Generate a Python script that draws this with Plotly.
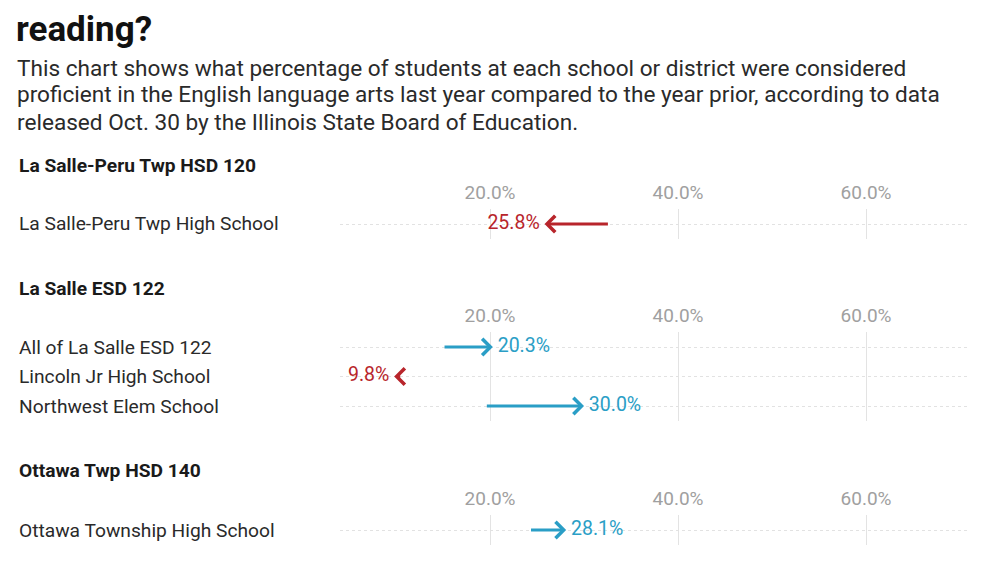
import plotly.graph_objects as go

# ---- data ----
groups = ["La Salle-Peru Twp HSD 120", "La Salle ESD 122", "Ottawa Twp HSD 140"]
schools = [
    ["La Salle-Peru Twp High School"],
    ["All of La Salle ESD 122", "Lincoln Jr High School", "Northwest Elem School"],
    ["Ottawa Township High School"],
]
prior_year = [[32.7], [15.0, 10.6, 19.5], [24.2]]
last_year = [[25.8], [20.3, 9.8, 30.0], [28.1]]
tick_vals = [20, 40, 60]
tick_text = ["20.0%", "40.0%", "60.0%"]

title = "reading?"
subtitle_lines = [
    "This chart shows what percentage of students at each school or district were considered",
    "proficient in the English language arts last year compared to the year prior, according to data",
    "released Oct. 30 by the Illinois State Board of Education.",
]

# ---- style ----
OFF = 8                      # browser body margin
W, H = 1000 - OFF, 563 - OFF
FONT = "Roboto"
UP = "#2a9ec6"
DOWN = "#b8252b"
XRANGE = [4.04, 71.06]
ROW_PX = 29.5
first_row_px = [224, 347, 530]   # page-pixel centre of first row in each panel
header_px = [165, 288, 470]
subtitle_px = [68, 95, 122]

def px(p):
    return (p - OFF) / W

def py(p):
    return 1 - (p - OFF) / H

XDOM = [px(340), px(970)]
LABEL_X = px(17)

fig = go.Figure()
annotations = []

for i, (g, names, a, b) in enumerate(zip(groups, schools, prior_year, last_year)):
    n = len(names)
    top = first_row_px[i] - ROW_PX / 2
    bot = top + n * ROW_PX
    xa = "x" if i == 0 else f"x{i+1}"
    ya = "y" if i == 0 else f"y{i+1}"
    xkey = "xaxis" if i == 0 else f"xaxis{i+1}"
    ykey = "yaxis" if i == 0 else f"yaxis{i+1}"
    fig.update_layout(**{
        xkey: dict(domain=XDOM, range=XRANGE, anchor=ya, side="top",
                   tickvals=tick_vals, ticktext=tick_text, showgrid=True,
                   gridcolor="#e3e3e3", gridwidth=1, zeroline=False, showline=False,
                   ticks="", tickfont=dict(family=FONT, size=19, color="#a0a0a0"),
                   ticklabelstandoff=5, fixedrange=True),
        ykey: dict(domain=[py(bot), py(top)], range=[n - 0.5, -0.5], anchor=xa,
                   tickvals=list(range(n)), showticklabels=False, showgrid=True,
                   gridcolor="#e2e2e2", griddash="dot", gridwidth=1, zeroline=False,
                   showline=False, ticks="", fixedrange=True),
    })
    ys = list(range(n))
    up = [e >= s for s, e in zip(a, b)]
    cols = [UP if u else DOWN for u in up]
    pos = ["middle right" if u else "middle left" for u in up]
    txt = [("\u00a0" + f"{v:.1f}%") if u else (f"{v:.1f}%" + "\u00a0") for v, u in zip(b, up)]
    fig.add_trace(go.Scatter(
        x=b, y=ys, xaxis=xa, yaxis=ya, mode="text",
        text=txt, textposition=pos,
        textfont=dict(family=FONT, size=19.5, color=cols),
        hoverinfo="skip", showlegend=False, cliponaxis=False))
    for s, e, yv, c in zip(a, b, ys, cols):
        annotations.append(dict(
            x=e, y=yv, ax=s, ay=yv, xref=xa, yref=ya, axref=xa, ayref=ya,
            text="", showarrow=True, arrowhead=4, arrowsize=1.05, arrowwidth=3,
            arrowcolor=c, standoff=0, startstandoff=0))
        annotations.append(dict(
            x=LABEL_X, y=yv, xref="paper", yref=ya, text=names[yv], showarrow=False,
            xanchor="left", yanchor="middle",
            font=dict(family=FONT, size=19.2, color="#2a2a2a")))
    annotations.append(dict(
        x=LABEL_X, y=py(header_px[i]), xref="paper", yref="paper", text=f"<b>{g}</b>",
        showarrow=False, xanchor="left", yanchor="middle",
        font=dict(family=FONT, size=19.2, color="#1a1a1a")))

annotations.append(dict(
    x=px(15), y=1.0, xref="paper", yref="paper", text=f"<b>{title}</b>",
    showarrow=False, xanchor="left", yanchor="top", borderpad=0,
    font=dict(family=FONT, size=35, color="#111111")))
for line, yp in zip(subtitle_lines, subtitle_px):
    annotations.append(dict(
        x=px(15), y=py(yp), xref="paper", yref="paper", text=line,
        showarrow=False, xanchor="left", yanchor="middle", align="left",
        font=dict(family=FONT, size=22.6, color="#2a2a2a")))

fig.update_layout(
    width=W, height=H, margin=dict(l=0, r=0, t=0, b=0),
    paper_bgcolor="white", plot_bgcolor="white",
    annotations=annotations, showlegend=False,
    font=dict(family=FONT),
)

fig.write_html("out.html", config={"displayModeBar": False})
